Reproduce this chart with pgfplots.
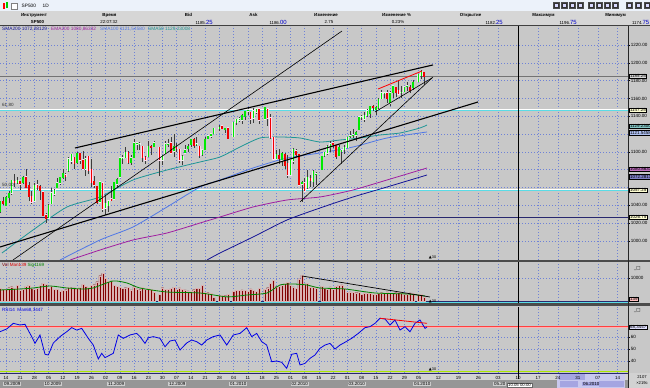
\documentclass[border=0pt]{standalone}
\usepackage{fontspec}
\setmainfont{Liberation Sans}
\newfontfamily\dejavu{DejaVu Sans}
\usepackage{pgfplots}
\usepackage{pgfplotstable}
\pgfplotsset{compat=1.18}

\definecolor{panel}{RGB}{200,200,200}
\definecolor{gridc}{RGB}{110,130,215}
\definecolor{upc}{RGB}{0,235,0}
\definecolor{dnc}{RGB}{240,0,0}
\definecolor{wick}{RGB}{60,60,60}
\definecolor{sma50}{RGB}{30,150,150}
\definecolor{sma100}{RGB}{80,120,230}
\definecolor{ema200}{RGB}{160,30,160}
\definecolor{sma200}{RGB}{20,20,150}
\definecolor{fibc}{RGB}{90,220,230}
\definecolor{navyl}{RGB}{40,40,110}
\definecolor{sep}{RGB}{75,75,75}
\definecolor{hdr}{RGB}{214,214,214}
\definecolor{titlebg}{RGB}{236,242,250}
\definecolor{volc}{RGB}{130,0,0}
\definecolor{sigc}{RGB}{0,130,0}
\definecolor{rsic}{RGB}{0,0,230}
\definecolor{limec}{RGB}{170,230,0}
\definecolor{yellowbox}{RGB}{255,255,210}
\definecolor{monthdark}{RGB}{150,150,150}
\definecolor{monthlight}{RGB}{205,205,205}
\definecolor{daterow}{RGB}{210,210,210}
\definecolor{lav}{RGB}{165,165,225}
\definecolor{lavlight}{RGB}{200,200,238}
\definecolor{bidblue}{RGB}{0,0,200}

\newcommand{\fs}[1]{\fontsize{#1}{#1}\selectfont}

% OHLC: t = trading-day slot (5 per week, 0 = 14.09.2009)
\pgfplotstableread{
t o h l c
-2 1033 1045 1031 1044
-1 1044 1049 1040 1042
0 1040 1050 1039 1049
1 1049 1056 1043 1053
2 1054 1068 1052 1068
3 1067 1075 1061 1066
4 1066 1072 1064 1068
5 1067 1067 1057 1064
6 1066 1073 1064 1071
7 1072 1081 1059 1060
8 1062 1066 1045 1050
9 1050 1056 1041 1044
10 1045 1065 1045 1062
11 1063 1069 1057 1060
12 1061 1063 1046 1057
13 1055 1056 1029 1029
14 1029 1031 1020 1025
15 1026 1042 1025 1040
16 1042 1060 1042 1054
17 1053 1058 1050 1057
18 1060 1071 1060 1065
19 1065 1072 1063 1071
20 1071 1081 1070 1076
21 1074 1076 1067 1073
22 1079 1094 1078 1092
23 1090 1097 1086 1097
24 1094 1094 1081 1087
25 1088 1100 1086 1098
26 1098 1098 1086 1091
27 1091 1101 1080 1081
28 1081 1095 1073 1092
29 1095 1095 1075 1079
30 1080 1092 1061 1066
31 1067 1073 1060 1063
32 1061 1062 1042 1043
33 1044 1067 1044 1066
34 1065 1066 1033 1036
35 1037 1052 1029 1042
36 1040 1046 1033 1045
37 1047 1062 1045 1046
38 1047 1066 1047 1066
39 1064 1071 1059 1069
40 1072 1093 1072 1093
41 1093 1096 1087 1093
42 1094 1105 1094 1099
43 1099 1101 1086 1088
44 1088 1097 1085 1093
45 1094 1114 1094 1110
46 1109 1111 1102 1110
47 1109 1111 1102 1109
48 1106 1106 1089 1094
49 1094 1095 1086 1091
50 1095 1112 1095 1106
51 1106 1108 1097 1105
52 1106 1112 1105 1110
54 1105 1105 1073 1091
55 1091 1097 1085 1096
56 1098 1112 1098 1109
57 1109 1115 1106 1109
58 1110 1117 1098 1099
59 1101 1120 1094 1106
60 1105 1110 1100 1104
61 1103 1103 1088 1091
62 1091 1097 1085 1095
63 1099 1108 1099 1102
64 1104 1109 1100 1106
65 1108 1115 1106 1114
66 1114 1116 1104 1107
67 1109 1117 1107 1109
68 1106 1107 1093 1096
69 1097 1103 1095 1102
70 1103 1117 1103 1114
71 1115 1119 1114 1118
72 1118 1121 1116 1120
73 1121 1126 1121 1126
75 1127 1130 1124 1127
76 1129 1130 1126 1126
77 1125 1127 1121 1126
78 1127 1127 1114 1115
80 1117 1134 1117 1133
81 1133 1137 1130 1136
82 1136 1139 1134 1137
83 1136 1142 1131 1141
84 1140 1145 1136 1145
85 1146 1150 1141 1147
86 1144 1144 1131 1137
87 1138 1149 1133 1146
88 1145 1149 1142 1148
89 1148 1148 1131 1136
91 1137 1150 1136 1150
92 1148 1148 1129 1138
93 1138 1142 1114 1116
94 1116 1116 1091 1092
95 1092 1102 1092 1097
96 1096 1103 1086 1093
97 1091 1100 1084 1098
98 1097 1099 1081 1085
99 1087 1097 1071 1074
100 1074 1090 1074 1090
101 1090 1104 1087 1103
102 1101 1103 1094 1097
103 1097 1097 1062 1063
104 1064 1067 1044 1066
105 1065 1071 1056 1056
106 1060 1080 1058 1071
107 1070 1074 1061 1068
108 1067 1080 1061 1078
109 1075 1077 1063 1075
111 1080 1095 1080 1095
112 1096 1100 1094 1099
113 1099 1108 1097 1106
114 1105 1112 1100 1109
115 1110 1112 1104 1108
116 1107 1108 1092 1095
117 1096 1108 1096 1105
118 1101 1103 1086 1102
119 1103 1108 1098 1105
120 1105 1116 1105 1116
121 1117 1124 1116 1118
122 1119 1126 1116 1119
123 1119 1123 1112 1122
124 1125 1139 1125 1139
125 1139 1141 1136 1139
126 1137 1145 1134 1141
127 1141 1148 1139 1146
128 1143 1151 1138 1151
129 1151 1153 1146 1150
130 1148 1151 1141 1150
131 1150 1160 1148 1159
132 1160 1169 1159 1166
133 1166 1167 1161 1166
134 1166 1170 1155 1160
135 1155 1168 1152 1166
136 1167 1174 1161 1174
137 1172 1172 1162 1167
138 1169 1181 1164 1165
139 1167 1174 1161 1167
140 1168 1174 1167 1173
141 1174 1178 1168 1174
142 1172 1175 1166 1169
143 1172 1181 1170 1178
145 1179 1188 1178 1187
146 1186 1192 1182 1190
147 1189 1190 1175 1185
}\ohlc

\pgfplotstableread{
t v
-2 5600
-1 5200
0 5000
1 5800
2 6200
3 5600
4 6800
5 4800
6 5200
7 6400
8 6700
9 5600
10 5200
11 5400
12 6700
13 7800
14 7200
15 5600
16 6300
17 5100
18 5200
19 4300
20 4600
21 4900
22 6000
23 5800
24 5700
25 5400
26 5900
27 7200
28 6400
29 5900
30 6800
31 7100
32 8400
33 11000
34 12000
35 9800
36 8600
37 8800
38 6700
39 6300
40 6000
41 5500
42 5800
43 6000
44 4800
45 6200
46 5300
47 4900
48 6000
49 5100
50 5400
51 5000
52 3900
54 2800
55 5800
56 5200
57 5000
58 5400
59 6000
60 5000
61 5700
62 5200
63 4800
64 4400
65 4300
66 4900
67 5400
68 5600
69 6800
70 3800
71 3600
72 3300
73 1500
75 2400
76 2500
77 2300
78 2800
80 4300
81 4500
82 4600
83 4800
84 4500
85 4300
86 5300
87 4600
88 4300
89 5400
91 5100
92 5800
93 7800
94 8900
95 6200
96 6500
97 7100
98 7600
99 8000
100 6800
101 6100
102 5600
103 9600
104 11200
105 7400
106 7700
107 6100
108 6100
109 5400
111 6300
112 5400
113 5100
114 6100
115 5000
116 6300
117 6900
118 7000
119 5500
120 3900
121 4000
122 3800
123 3600
124 4000
125 3000
126 3500
127 3300
128 3300
129 3000
130 2900
131 3400
132 3600
133 3200
134 4000
135 3200
136 3300
137 3600
138 3900
139 3500
140 2900
141 3100
142 3500
143 3200
145 2800
146 3000
147 1500
}\vol

\tikzset{
  rbox/.style={anchor=west, xshift=1.2bp, font=\fs{4.5}, inner xsep=0.7bp,
    inner ysep=0.4bp, draw=black, line width=0.3bp, text height=3.3bp, text depth=0.2bp},
  mlab/.style={anchor=west, inner xsep=1bp, inner ysep=0.5bp, font=\fs{4.5}, fill=monthlight,
    text height=3.3bp, text depth=0.3bp},
}
\pgfplotsset{
  panelaxis/.style={
    scale only axis, width=628bp, anchor=south west,
    xmin=-2.109, xmax=218.63,
    axis background/.style={fill=panel},
    axis line style={draw=none},
    xtick={0,5,...,145,152,159,...,215}, xticklabels={},
    xtick style={draw=none},
    grid=both,
    major grid style={dash pattern=on 0.8bp off 2.2bp, gridc, line width=0.5bp},
    minor grid style={dash pattern=on 0.8bp off 2.2bp, gridc, line width=0.5bp},
    ytick pos=right, yticklabel pos=right,
    ytick style={draw=black, line width=0.4bp},
    major tick length=2bp, minor tick length=0bp, tick align=outside,
    clip mode=individual,
    scaled y ticks=false,
    /pgf/number format/assume math mode=true,
    yticklabel style={font=\fs{4.6}, inner sep=0.6bp},
  },
}

\begin{document}
\begin{tikzpicture}
\useasboundingbox (0,0) rectangle (650bp,388bp);
% base
\fill[panel] (0,0) rectangle (650bp,388bp);
% title bar
\fill[titlebg] (0,376.5bp) rectangle (650bp,388bp);
\draw[gray!70, line width=0.4bp] (0,376.5bp) -- (650bp,376.5bp);
\fill[red] (2.5bp,379bp) rectangle (4.5bp,385bp);
\fill[green!80!black] (5.5bp,380bp) rectangle (7.5bp,386bp);
\draw[gray, fill=white, line width=0.4bp] (11.5bp,378.5bp) rectangle (17bp,384.5bp);
\node[font=\fs{4.8}, anchor=west, inner sep=0] at (21.5bp,382bp) {SP500};
\node[font=\fs{4.8}, anchor=west, inner sep=0] at (42.5bp,382bp) {1D};
\foreach \xx in {553,561,569,577,588,596,604,612,626,635,644}{
  \draw[fill=white!85!blue, draw=black!70, line width=0.35bp] (\xx bp,379.5bp) rectangle ++(6.5bp,6.5bp);
  \draw[black!80, line width=0.4bp] ([xshift=1.5bp,yshift=1.5bp]\xx bp,379.5bp) rectangle ++(3.5bp,3.5bp);
}
% header
\fill[hdr] (0,362.5bp) rectangle (650bp,376.5bp);
\fill[black!75] (0,361.5bp) rectangle (650bp,362.5bp);
\begin{scope}[every node/.style={inner sep=0, font=\fs{4.4}\bfseries}]
\node at (34bp,373bp) {Инструмент};
\node at (109.5bp,373bp) {Время};
\node at (188.5bp,373bp) {Bid};
\node at (253.5bp,373bp) {Ask};
\node at (326bp,373bp) {Изменение};
\node at (396.5bp,373bp) {Изменение \%};
\node at (470.5bp,373bp) {Открытие};
\node at (543.5bp,373bp) {Максимум};
\node at (615.5bp,373bp) {Минимум};
\end{scope}
\begin{scope}[every node/.style={inner sep=0, font=\fs{4.4}}]
\node at (37.5bp,366bp) {\bfseries SP500};
\node at (109bp,366bp) {22:07:32};
\node[anchor=east] at (213bp,366bp) {1185.\textcolor{bidblue}{\fs{6}25}};
\node[anchor=east] at (287bp,366bp) {1186.\textcolor{bidblue}{\fs{6}00}};
\node at (329bp,366bp) {2.75};
\node at (398bp,366bp) {0.23\%};
\node[anchor=east] at (503bp,366bp) {1182.\textcolor{bidblue}{\fs{6}25}};
\node[anchor=east] at (577bp,366bp) {1196.\textcolor{bidblue}{\fs{6}75}};
\node[anchor=east] at (649.5bp,366bp) {1174.\textcolor{bidblue}{\fs{6}75}};
\end{scope}
% date row background and month band
\fill[daterow] (0,0) rectangle (650bp,15bp);
\fill[monthdark] (0,0) rectangle (628bp,7.6bp);
\fill[lavlight] (557bp,0) rectangle (625bp,14.5bp);
\fill[lav] (559bp,8bp) rectangle (585bp,13.5bp);
\fill[lav] (560bp,0.8bp) rectangle (578bp,6.8bp);
\fill[lav] (599bp,0.8bp) rectangle (624bp,6.8bp);

% ================= PRICE =================
\begin{axis}[panelaxis, at={(0bp,128bp)}, height=234bp,
  ymin=978.69, ymax=1241.32,
  ytick={1000,1020,1040,1100,1140,1160,1180,1200,1220},
  minor ytick={1060,1080,1120},
  yticklabel style={/pgf/number format/fixed, /pgf/number format/fixed zerofill,
    /pgf/number format/precision=2, /pgf/number format/1000 sep={}}]
\addplot[black!55, line width=0.8bp] coordinates {(-2.109,1185.25) (218.63,1185.25)};
\addplot[fibc, line width=1bp] coordinates {(-2.109,1146.2) (218.63,1146.2)};
\addplot[white, line width=0.9bp] coordinates {(-2.109,1147.4) (218.63,1147.4)};
\addplot[fibc, line width=1bp] coordinates {(-2.109,1056.2) (218.63,1056.2)};
\addplot[white, line width=0.9bp] coordinates {(-2.109,1057.4) (218.63,1057.4)};
\addplot[navyl, line width=1.1bp] coordinates {(-2.109,1026.75) (218.63,1026.75)};
% moving averages
\addplot[sma50, line width=0.8bp, smooth, tension=0.4] table {
t p
-1.41 986.55
9.49 1012.37
21.44 1038.18
33.04 1049.41
44.64 1068.49
56.59 1079.71
68.19 1088.69
75.22 1094.30
82.25 1105.52
89.28 1115.62
96.31 1116.75
103.34 1115.62
110.37 1111.13
117.40 1113.37
124.43 1115.62
131.46 1118.99
138.49 1121.23
145.52 1126.84
147.98 1130.21
};
\addplot[sma100, line width=0.8bp, smooth, tension=0.4] table {
t p
18.98 978.68
33.04 1001.15
44.64 1015.74
56.59 1038.18
68.19 1060.62
75.22 1068.49
86.82 1081.95
98.77 1093.18
110.37 1098.79
121.97 1105.52
133.92 1115.62
147.98 1122.36
};
\addplot[ema200, line width=0.8bp, smooth, tension=0.4] table {
t p
22.50 978.68
33.04 989.90
44.64 1001.15
56.59 1009.00
68.19 1020.20
75.22 1026.96
86.82 1038.18
98.77 1046.04
110.37 1049.41
121.97 1057.26
133.92 1068.49
147.98 1081.95
};
\addplot[sma200, line width=0.8bp, smooth, tension=0.4] table {
t p
70.65 978.69
75.22 986.55
86.82 1004.50
98.77 1023.60
110.37 1037.06
121.97 1049.41
133.92 1060.62
147.98 1074.09
};
% candles: wicks
\addplot[draw=none, mark=none, error bars/.cd, y dir=both, y explicit, error mark=none,
  error bar style={draw=wick, solid, line width=0.5bp}]
  table[x=t, y expr={(\thisrow{h}+\thisrow{l})/2}, y error expr={(\thisrow{h}-\thisrow{l})/2}] {\ohlc};
% up bodies
\addplot[draw=none, mark=none, restrict expr to domain={\thisrow{c}-\thisrow{o}}{0:500},
  error bars/.cd, y dir=both, y explicit, error mark=none,
  error bar style={draw=white!92!black, solid, line width=2.3bp}]
  table[x=t, y expr={(\thisrow{o}+\thisrow{c})/2}, y error expr={abs(\thisrow{c}-\thisrow{o})/2+0.8}] {\ohlc};
\addplot[draw=none, mark=none, restrict expr to domain={\thisrow{c}-\thisrow{o}}{0:500},
  error bars/.cd, y dir=both, y explicit, error mark=none,
  error bar style={draw=upc, solid, line width=1.5bp}]
  table[x=t, y expr={(\thisrow{o}+\thisrow{c})/2}, y error expr={abs(\thisrow{c}-\thisrow{o})/2+0.4}] {\ohlc};
% down bodies
\addplot[draw=none, mark=none, restrict expr to domain={\thisrow{c}-\thisrow{o}}{-500:-0.01},
  error bars/.cd, y dir=both, y explicit, error mark=none,
  error bar style={draw=white!85!magenta, solid, line width=2.3bp}]
  table[x=t, y expr={(\thisrow{o}+\thisrow{c})/2}, y error expr={abs(\thisrow{c}-\thisrow{o})/2+0.8}] {\ohlc};
\addplot[draw=none, mark=none, restrict expr to domain={\thisrow{c}-\thisrow{o}}{-500:-0.01},
  error bars/.cd, y dir=both, y explicit, error mark=none,
  error bar style={draw=dnc, solid, line width=1.5bp}]
  table[x=t, y expr={(\thisrow{o}+\thisrow{c})/2}, y error expr={abs(\thisrow{c}-\thisrow{o})/2+0.4}] {\ohlc};
% trend lines
\addplot[black, line width=1.1bp] coordinates {(-2.109,993.29) (165.91,1156.03)};
\addplot[black, line width=1.1bp] coordinates {(24.25,1104.4) (150.09,1197.6)};
\addplot[black, line width=0.6bp] coordinates {(2.46,978.7) (118.10,1235.7)};
\addplot[black, line width=0.6bp] coordinates {(103.34,1043.8) (150.09,1184.1)};
\addplot[black, line width=0.6bp] coordinates {(129.70,1144.8) (149.74,1183.0)};
\addplot[red, line width=0.8bp] coordinates {(130.76,1170.6) (146.22,1190.8)};
\addplot[black, line width=0.9bp] coordinates {(180,978.69) (180,1241.32)};
% texts
\node[anchor=west, inner sep=0, font=\fs{4.8}, text=sma200] at (axis cs:-1.41,1238) {SMA200 1072,28129};
\node[anchor=west, inner sep=0, font=\fs{4.8}, text=ema200] at (axis cs:15.82,1238) {EMA200 1080,86332};
\node[anchor=west, inner sep=0, font=\fs{4.8}, text=sma100] at (axis cs:33.04,1238) {SMA100 1121,54580};
\node[anchor=west, inner sep=0, font=\fs{4.8}, text=sma50] at (axis cs:49.91,1238) {SMA50 1129,23008};
\node[anchor=west, inner sep=0, font=\fs{4.6}, text=black!80] at (axis cs:-1.41,1152.0) {61,80};
\node[anchor=west, inner sep=0, font=\fs{4.6}, text=black!80] at (axis cs:-1.41,1062.2) {50,00};
\node[anchor=south west, inner sep=0.3bp, font=\fs{3.8}] at (axis cs:148.5,979.5) {{\dejavu▲}30};
\node[rbox, fill=black!15] at (axis cs:218.63,1185.25) {1185.25};
\node[rbox, fill=yellowbox] at (axis cs:218.63,1147.25) {1147.25};
\node[rbox, fill=sma50!55!white] at (axis cs:218.63,1129.23) {1129.2300};
\node[rbox, fill=sma100!45!white] at (axis cs:218.63,1121.55) {1121.5458};
\node[rbox, fill=ema200!65!white] at (axis cs:218.63,1080.86) {1080.8633};
\node[rbox, fill=sma200!55!white] at (axis cs:218.63,1072.28) {1072.2813};
\node[rbox, fill=yellowbox] at (axis cs:218.63,1057.25) {1057.25};
\node[rbox, fill=yellowbox] at (axis cs:218.63,1026.75) {1026.75};
\end{axis}

% ================= VOLUME =================
\begin{axis}[panelaxis, at={(0bp,84.5bp)}, height=41bp,
  ymin=-1087, ymax=16739, ytick={10000},
  yticklabel style={/pgf/number format/fixed, /pgf/number format/precision=0, /pgf/number format/1000 sep={}}]
\addplot[fibc, line width=0.6bp] coordinates {(-2.109,-500) (218.63,-500)};
\addplot[navyl, line width=0.8bp] coordinates {(-2.109,0) (218.63,0)};
\addplot[ybar, bar width=2.1bp, fill=volc, draw=white!70!volc, line width=0.3bp] table[x=t, y=v] {\vol};
\addplot[sigc, line width=0.8bp, smooth, tension=0.4] table {
t v
-2.11 4780
4.92 5220
9.49 5650
15.47 6520
21.44 5650
27.07 5220
30.58 5650
37.61 8700
42.53 7830
47.10 5650
56.59 3910
68.19 3480
77.68 1800
84.71 2610
91.74 3480
96.31 6960
100.88 7390
105.80 6960
110.37 5650
119.16 5220
129.70 3480
141.30 3040
147.28 2170
};
\addplot[black, line width=0.7bp] coordinates {(104.04,10870) (149.03,1740)};
\addplot[black, line width=0.9bp] coordinates {(180,-1087) (180,16739)};
\node[anchor=west, inner sep=0, font=\fs{4.6}] at (axis cs:-1.41,15650)
  {\textcolor{volc}{Vol}\ \textcolor{red!85!black}{Man139}\ \textcolor{sigc}{Sig1169}};
\node[anchor=south west, inner sep=0.3bp, font=\fs{3.8}] at (axis cs:148.5,-1000) {{\dejavu▲}30};
\node[rbox, fill=red!25!white] at (axis cs:218.63,900) {139};
\node[anchor=west, xshift=6bp, inner sep=0, font=\dejavu\fs{4.5}] at (axis cs:218.63,14300) {\_□};
\end{axis}

% ================= RSI =================
\begin{axis}[panelaxis, at={(0bp,15bp)}, height=66.5bp,
  ymin=30, ymax=85.42, ytick={40,50,60},
  xticklabels={14,21,28,05,12,19,26,02,09,16,23,30,07,14,21,28,04,11,18,25,01,08,15,22,01,08,15,22,29,05,12,19,26,03,10,17,24,31,07,14},
  xticklabel style={font=\fs{4.5}, inner sep=0.4bp, yshift=-0.6bp}]
\addplot[red!30!white, line width=1.2bp] coordinates {(-2.109,68.2) (218.63,68.2)};
\addplot[red!75!white, line width=0.9bp] coordinates {(-2.109,69) (218.63,69)};
\addplot[limec, line width=1.3bp] coordinates {(-2.109,31.2) (218.63,31.2)};
\addplot[rsic, line width=0.8bp] table {
t r
-2.11 64.4
0.25 66.7
2.57 71.4
4.92 70.0
6.68 70.6
9.03 60.3
10.19 54.7
11.95 61.7
13.71 45.6
14.87 45.0
16.63 55.0
18.98 60.3
21.34 64.4
23.09 67.8
24.85 65.8
26.61 67.2
28.93 58.9
30.69 53.3
32.44 41.7
33.64 46.4
34.80 42.8
37.72 46.4
39.47 61.7
41.23 58.9
43.59 61.7
45.94 63.0
47.10 60.3
48.86 54.7
50.02 59.4
51.78 60.3
54.13 58.9
55.89 51.9
57.64 56.7
59.40 57.5
61.16 49.2
63.52 55.0
65.27 57.5
67.03 56.1
68.79 53.3
70.54 57.5
72.86 60.3
75.22 61.7
77.58 53.3
79.89 61.7
82.25 63.0
84.61 67.8
86.36 60.3
88.12 63.0
89.88 56.1
91.63 53.3
93.39 39.4
95.15 40.0
96.91 38.9
98.66 33.9
100.42 45.6
102.18 46.4
103.34 36.7
105.10 38.0
106.85 42.2
108.61 45.0
110.37 50.6
112.13 53.3
113.89 54.7
115.64 50.0
117.40 53.3
119.16 55.6
121.51 58.9
123.83 63.0
126.19 67.8
127.94 68.6
129.70 71.4
131.46 75.6
133.22 75.0
134.97 70.0
136.73 74.2
138.49 65.8
140.25 68.6
142.00 64.4
143.76 71.4
145.52 74.2
147.28 67.2
147.98 68.3
};
\addplot[red, line width=0.8bp] coordinates {(131.46,75.6) (147.98,71.4)};
\addplot[black, line width=0.9bp] coordinates {(180,30) (180,85.42)};
\node[anchor=west, inner sep=0, font=\fs{4.6}, text=rsic] at (axis cs:-1.41,82.5) {RSI14\ \ Man68,3447};
\node[anchor=south west, inner sep=0.3bp, font=\fs{3.8}] at (axis cs:148.5,31.6) {{\dejavu▲}30};
\node[rbox, fill=blue!12!white] at (axis cs:218.63,68.34) {68,3447};
\node[anchor=west, xshift=6bp, inner sep=0, font=\dejavu\fs{4.5}] at (axis cs:218.63,82) {\_□};
\end{axis}

% separators and borders
\fill[sep] (0,125.5bp) rectangle (650bp,128bp);
\fill[sep] (0,81.5bp) rectangle (650bp,84.5bp);
\draw[navyl, line width=0.7bp] (0,15bp) -- (628bp,15bp);
\draw[black!85, line width=0.9bp] (628bp,0) -- (628bp,362bp);
\draw[black, line width=0.9bp] (518.1bp,8.5bp) -- (518.1bp,15bp);
% month labels
\node[mlab] at (3bp,3.8bp) {09.2009};
\node[mlab] at (43.5bp,3.8bp) {10.2009};
\node[mlab] at (107bp,3.8bp) {11.2009};
\node[mlab] at (168bp,3.8bp) {12.2009};
\node[mlab] at (229bp,3.8bp) {01.2010};
\node[mlab] at (290.5bp,3.8bp) {02.2010};
\node[mlab] at (347.5bp,3.8bp) {03.2010};
\node[mlab] at (413bp,3.8bp) {04.2010};
\node[mlab] at (493bp,3.8bp) {05.20};
\node[mlab, fill=lav] at (582bp,3.8bp) {06.2010};
\node[draw=black!60, fill=white, line width=0.3bp, inner xsep=1bp, inner ysep=0.6bp, font=\fs{4.3}, anchor=south west] at (507bp,0.3bp) {10.05 00:00};
\fill[daterow] (628.5bp,0) rectangle (650bp,15bp);
\node[font=\fs{4.2}, inner sep=0] at (642bp,10.5bp) {2107};
\node[font=\fs{4.2}, inner sep=0] at (642bp,5bp) {×219с};
\end{tikzpicture}
\end{document}
